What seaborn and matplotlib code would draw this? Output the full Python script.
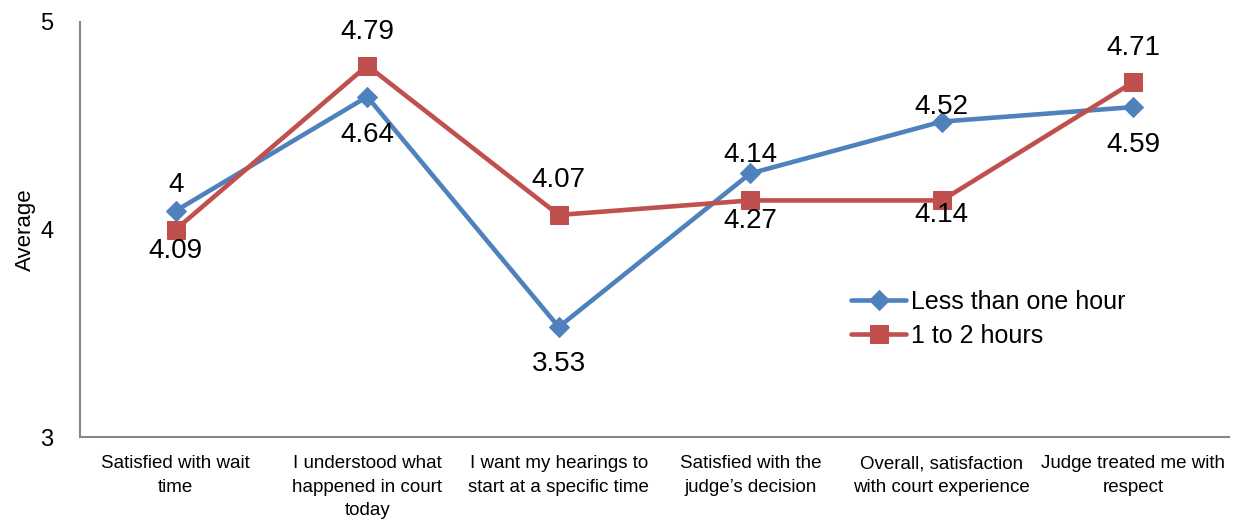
import matplotlib
matplotlib.use("Agg")
import matplotlib.pyplot as plt
import seaborn as sns
import pandas as pd

categories = [
    "Satisfied with wait\ntime",
    "I understood what\nhappened in court\ntoday",
    "I want my hearings to\nstart at a specific time",
    "Satisfied with the\njudge\u2019s decision",
    "Overall, satisfaction\nwith court experience",
    "Judge treated me with\nrespect",
]
less_than_one_hour = [4.09, 4.64, 3.53, 4.27, 4.52, 4.59]
one_to_two_hours = [4.00, 4.79, 4.07, 4.14, 4.14, 4.71]
upper_labels = ["4", "4.79", "4.07", "4.14", "4.52", "4.71"]
lower_labels = ["4.09", "4.64", "3.53", "4.27", "4.14", "4.59"]
series_names = ["Less than one hour", "1 to 2 hours"]
y_ticks = [3, 4, 5]

# layout (label offsets in pixels)
upper_dy = [26, 34, 35, 18, 15, 34]
lower_dy = [22, 38, 37, 21, 15, 38]

sns.set_theme(style="white")
plt.rcParams["font.family"] = ["Liberation Sans", "DejaVu Sans"]
plt.rcParams["text.color"] = "black"
plt.rcParams["axes.labelcolor"] = "black"
plt.rcParams["xtick.color"] = "black"
plt.rcParams["ytick.color"] = "black"

DPI = 100
fig = plt.figure(figsize=(12.33, 5.19), dpi=DPI)
ax = fig.add_axes([80 / 1233, (519 - 437) / 519, 1149 / 1233, 415 / 519])

df = pd.DataFrame({
    "x": list(range(len(categories))) * 2,
    "value": less_than_one_hour + one_to_two_hours,
    "series": [series_names[0]] * len(categories) + [series_names[1]] * len(categories),
})

blue = "#4F81BD"
red = "#C0504D"
styles = {
    series_names[0]: dict(color=blue, marker="D", markersize=10),
    series_names[1]: dict(color=red, marker="s", markersize=13),
}
for name in series_names:
    sub = df[df["series"] == name]
    st = styles[name]
    sns.lineplot(data=sub, x="x", y="value", ax=ax, color=st["color"],
                 marker=st["marker"], markersize=st["markersize"],
                 markeredgecolor=st["color"], linewidth=3.3, label=name,
                 sort=False)

px2pt = 72 / DPI
for i in range(len(categories)):
    hi = max(less_than_one_hour[i], one_to_two_hours[i])
    lo = min(less_than_one_hour[i], one_to_two_hours[i])
    ax.annotate(upper_labels[i], (i, hi), xytext=(0, upper_dy[i] * px2pt),
                textcoords="offset points", ha="center", va="center",
                fontsize=20, color="black")
    ax.annotate(lower_labels[i], (i, lo), xytext=(0, -lower_dy[i] * px2pt),
                textcoords="offset points", ha="center", va="center",
                fontsize=20, color="black")

ax.set_xlim(-0.5, len(categories) - 0.5)
ax.set_ylim(3, 5)
ax.set_yticks(y_ticks)
ax.set_yticklabels([str(t) for t in y_ticks], fontsize=17, color="black")
ax.set_xticks(range(len(categories)))
ax.set_xticklabels(categories, fontsize=13.5, linespacing=1.5, color="black")
ax.tick_params(axis="both", length=0)
ax.tick_params(axis="y", pad=19)
ax.tick_params(axis="x", pad=13)
ax.set_xlabel("")
ax.set_ylabel("Average", fontsize=16, labelpad=3, color="black")

for s in ["top", "right"]:
    ax.spines[s].set_visible(False)
for s in ["left", "bottom"]:
    ax.spines[s].set_color("#868686")
    ax.spines[s].set_linewidth(1.5)
ax.grid(False)

leg = ax.legend(loc="upper left", bbox_to_anchor=(851 / 1233, 1 - 290 / 519),
                bbox_transform=fig.transFigure, frameon=False, fontsize=18,
                handlelength=2.2, handletextpad=0.2, borderpad=0,
                borderaxespad=0, labelspacing=0.4)
for t in leg.get_texts():
    t.set_color("black")

fig.savefig("out.png", dpi=DPI, facecolor="white")
